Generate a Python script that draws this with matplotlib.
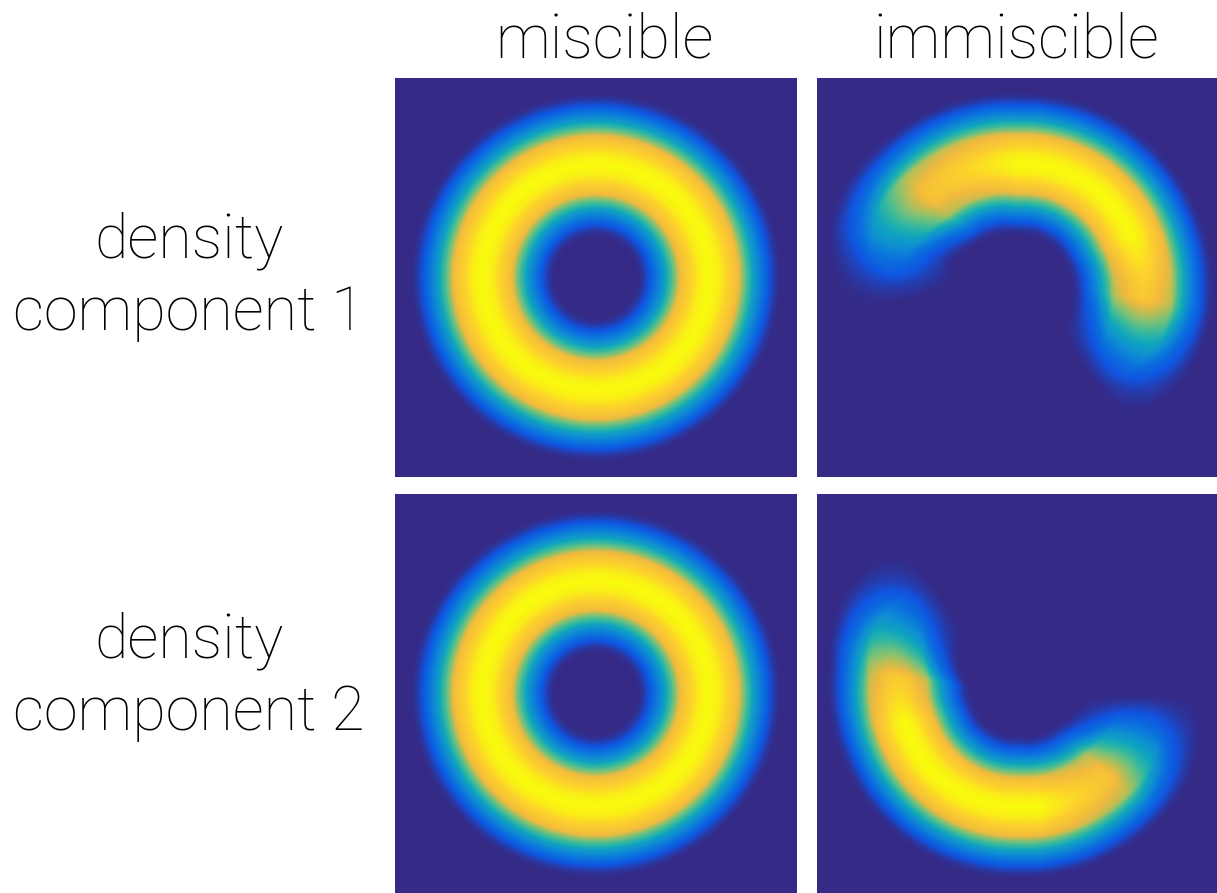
import numpy as np
import matplotlib
matplotlib.use("Agg")
import matplotlib.pyplot as plt
from matplotlib.colors import LinearSegmentedColormap

# labels
col_titles = ["miscible", "immiscible"]
row_titles = [["density", "component 1"], ["density", "component 2"]]

# parula-like colour anchors (position, rgb)
parula_pos = [0.0, 0.1, 0.2, 0.3, 0.4, 0.5, 0.6, 0.7, 0.8, 0.9, 1.0]
parula_rgb = [(0.208, 0.166, 0.529), (0.064, 0.331, 0.880), (0.040, 0.440, 0.870),
              (0.060, 0.560, 0.820), (0.060, 0.650, 0.740), (0.210, 0.723, 0.622),
              (0.467, 0.759, 0.480), (0.732, 0.745, 0.340), (0.950, 0.730, 0.240),
              (0.990, 0.812, 0.182), (0.976, 0.983, 0.054)]

# miscible ring (panel half-width = 1): radius and density vs distance from the ring
ring_radius = 0.565
ring_d = [0.00, 0.05, 0.08, 0.12, 0.145, 0.17, 0.195, 0.23, 0.27, 0.30, 0.33, 0.36]
ring_c = [1.00, 0.97, 0.92, 0.86, 0.80, 0.62, 0.50, 0.33, 0.20, 0.10, 0.03, 0.00]

# immiscible crescents: core arc ends (deg), tail length beyond each end (cw, ccw, deg),
# peak density along the core, band radius along the arc
arc1_ends = [-10, 138]
arc1_tail = [45, 55]
arc1_amp_deg = [-10, 20, 90, 138]
arc1_amp = [0.86, 1.0, 1.0, 0.84]
arc1_rad_deg = [-55, -10, 20, 90, 138, 165, 195]
arc1_rad = [0.67, 0.63, 0.60, 0.57, 0.61, 0.67, 0.64]

arc2_ends = [172, 318]
arc2_tail = [45, 42]
arc2_amp_deg = [172, 195, 280, 318]
arc2_amp = [0.88, 1.0, 1.0, 0.84]
arc2_rad_deg = [125, 150, 172, 200, 270, 318, 360]
arc2_rad = [0.74, 0.68, 0.60, 0.58, 0.57, 0.60, 0.66]

cmap = LinearSegmentedColormap.from_list("parula", list(zip(parula_pos, parula_rgb)))

n = 400
g = np.linspace(-1, 1, n)
X, Y = np.meshgrid(g, g)
R = np.hypot(X, Y)
TH = np.degrees(np.arctan2(Y, X))


def profile(dist):
    return np.interp(dist, ring_d, ring_c)


def crescent(ends, tail, amp_deg, amp, rad_deg, rad):
    mid = 0.5 * (ends[0] + ends[1])
    half = 0.5 * (ends[1] - ends[0])
    u = (TH - mid + 180) % 360 - 180
    over_cw = np.clip(-u - half, 0, None)
    over_ccw = np.clip(u - half, 0, None)
    fade = np.clip(1 - over_cw / tail[0] - over_ccw / tail[1], 0, 1) ** 1.3
    t = R * np.radians(over_cw + over_ccw) / 3.0
    a = np.interp(np.clip(u, -half, half) + mid, amp_deg, amp) * fade
    r0 = np.interp(TH, rad_deg, rad, period=360)
    return a * profile(np.hypot(R - r0, t))


ring = profile(np.abs(R - ring_radius))
fields = [[ring, crescent(arc1_ends, arc1_tail, arc1_amp_deg, arc1_amp, arc1_rad_deg, arc1_rad)],
          [ring, crescent(arc2_ends, arc2_tail, arc2_amp_deg, arc2_amp, arc2_rad_deg, arc2_rad)]]

W, H = 1217, 893
fig = plt.figure(figsize=(W / 100, H / 100), dpi=100)

col_left = [395, 817]
row_top = [78, 494]
pw, ph = 402, 399
for r in range(2):
    for c in range(2):
        ax = fig.add_axes([col_left[c] / W, 1 - (row_top[r] + ph) / H, pw / W, ph / H])
        ax.imshow(np.clip(fields[r][c], 0, 1), cmap=cmap, vmin=0, vmax=1, origin="lower",
                  extent=[-1, 1, -1, 1], interpolation="bicubic", aspect="auto")
        ax.axis("off")

font = dict(family=["Roboto", "DejaVu Sans"], weight="light", fontsize=44, color="black")
col_x = [604, 1016]
for c in range(2):
    fig.text(col_x[c] / W, 1 - 58 / H, col_titles[c], ha="center", va="baseline", **font)

label_base = [[258, 330], [658, 730]]
for r in range(2):
    for k in range(2):
        fig.text(189 / W, 1 - label_base[r][k] / H, row_titles[r][k],
                 ha="center", va="baseline", **font)

fig.savefig("out.png", dpi=100, facecolor="white")
